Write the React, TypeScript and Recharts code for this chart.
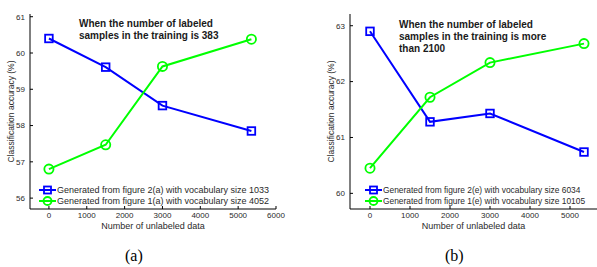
import React from "react";
import { CartesianGrid, Legend, Line, LineChart, XAxis, YAxis } from "recharts";

const unlabeled = [0, 1500, 3000, 5350];

const aFig2 = [60.4, 59.61, 58.55, 57.85];
const aFig1 = [56.8, 57.47, 59.63, 60.38];
const bFig2 = [62.9, 61.28, 61.43, 60.74];
const bFig1 = [60.45, 61.72, 62.34, 62.68];

const aXTicks = [0, 1000, 2000, 3000, 4000, 5000, 6000];
const aYTicks = [56, 57, 58, 59, 60, 61];
const bXTicks = [0, 1000, 2000, 3000, 4000, 5000];
const bYTicks = [60, 61, 62, 63];

const aNames = [
  "Generated from figure 2(a) with vocabulary size 1033",
  "Generated from figure 1(a) with vocabulary size 4052",
];
const bNames = [
  "Generated from figure 2(e) with vocabulary size 6034",
  "Generated from figure 1(e) with vocabulary size 10105",
];

const BLUE = "#0000ff";
const GREEN = "#00ff00";
const FONT = "'Liberation Sans', Arial, Helvetica, sans-serif";
const TXT = "#2a2a2a";

const toRows = (a: number[], b: number[]) =>
  unlabeled.map((x, i) => ({ x, s1: a[i], s2: b[i] }));

const SquareDot = (p: any) => {
  if (p.cx == null || p.cy == null) return null;
  return (
    <rect key={`sq-${p.index}`} x={p.cx - 3.8} y={p.cy - 3.8} width={7.6} height={7.6}
      fill="none" stroke={BLUE} strokeWidth={1.8} />
  );
};

const CircleDot = (p: any) => {
  if (p.cx == null || p.cy == null) return null;
  return <circle key={`ci-${p.index}`} cx={p.cx} cy={p.cy} r={4.6} fill="none" stroke={GREEN} strokeWidth={1.8} />;
};

function LegendBox({ names, size }: { names: string[]; size: number }) {
  const items = [
    { color: BLUE, shape: "square" },
    { color: GREEN, shape: "circle" },
  ];
  return (
    <div style={{ fontFamily: FONT, fontSize: size, color: TXT }}>
      {items.map((it, i) => (
        <div key={i} style={{ display: "flex", alignItems: "center", height: 10.4 }}>
          <svg width={18} height={10}>
            <line x1={0} y1={5} x2={17} y2={5} stroke={it.color} strokeWidth={2} />
            {it.shape === "square" ? (
              <rect x={5} y={1.5} width={7} height={7} fill="none" stroke={it.color} strokeWidth={1.8} />
            ) : (
              <circle cx={8.5} cy={5} r={4} fill="none" stroke={it.color} strokeWidth={1.8} />
            )}
          </svg>
          <span style={{ whiteSpace: "nowrap" }}>{names[i]}</span>
        </div>
      ))}
    </div>
  );
}

const yLabel = (props: any) => {
  const vb = props.viewBox;
  const cx = vb.x + 11;
  const cy = vb.y + vb.height / 2;
  return (
    <text x={cx} y={cy} transform={`rotate(-90, ${cx}, ${cy})`} textAnchor="middle"
      dominantBaseline="central" fontSize={8.5} fill={TXT} fontFamily={FONT}>
      Classification accuracy (%)
    </text>
  );
};

function Panel(props: {
  width: number;
  rightMargin: number;
  xDomain: [number, number];
  yDomain: [number, number];
  xTicks: number[];
  yTicks: number[];
  s1: number[];
  s2: number[];
  names: string[];
  legendLeft: number;
  legendSize: number;
}) {
  const data = toRows(props.s1, props.s2);
  const tickStyle = { fontSize: 8, fill: TXT, fontFamily: FONT };
  return (
    <LineChart width={props.width} height={235} data={data}
      margin={{ top: 14, right: props.rightMargin, bottom: 0, left: 0 }}>
      <CartesianGrid stroke="none" />
      <XAxis type="number" dataKey="x" domain={props.xDomain} ticks={props.xTicks} allowDataOverflow
        height={26} stroke="#000" tickSize={-3} tickMargin={6} tick={tickStyle} interval={0}
        label={{ value: "Number of unlabeled data", position: "insideBottom", offset: 6, fontSize: 9, fill: TXT, fontFamily: FONT }} />
      <XAxis xAxisId="top" orientation="top" type="number" dataKey="x" domain={props.xDomain}
        ticks={props.xTicks} allowDataOverflow height={0} stroke="#000" tickSize={-3} tick={false} interval={0} />
      <YAxis type="number" domain={props.yDomain} ticks={props.yTicks} allowDataOverflow width={30}
        stroke="#000" tickSize={-3} tickMargin={8} tick={tickStyle} interval={0} label={yLabel} />
      <YAxis yAxisId="right" orientation="right" type="number" domain={props.yDomain} ticks={props.yTicks}
        allowDataOverflow width={0} stroke="#000" tickSize={-3} tick={false} interval={0} />
      <Legend layout="horizontal" verticalAlign="middle" align="center"
        wrapperStyle={{ left: props.legendLeft, top: 185, width: "auto" }}
        content={() => <LegendBox names={props.names} size={props.legendSize} />} />
      <Line dataKey="s1" stroke={BLUE} strokeWidth={2} dot={SquareDot} isAnimationActive={false} />
      <Line dataKey="s2" stroke={GREEN} strokeWidth={2} dot={CircleDot} isAnimationActive={false} />
    </LineChart>
  );
}

const noteStyle: React.CSSProperties = {
  position: "absolute",
  fontFamily: FONT,
  fontWeight: "bold",
  fontSize: 10,
  lineHeight: "12px",
  color: "#1a1a1a",
  whiteSpace: "nowrap",
};

const captionStyle: React.CSSProperties = {
  position: "absolute",
  top: 247,
  fontFamily: "'Liberation Serif', 'Times New Roman', serif",
  fontSize: 16,
  lineHeight: "18px",
  color: "#000",
};

export default function App() {
  return (
    <div style={{ position: "fixed", left: 0, top: 0, width: 597, height: 267, background: "#fff", overflow: "hidden" }}>
      <div style={{ position: "absolute", left: 0, top: 0 }}>
        <Panel width={292} rightMargin={16} xDomain={[-500, 6000]} yDomain={[55.7, 61.075]}
          xTicks={aXTicks} yTicks={aYTicks} s1={aFig2} s2={aFig1} names={aNames} legendLeft={39} legendSize={9} />
      </div>
      <div style={{ position: "absolute", left: 320, top: 0 }}>
        <Panel width={278} rightMargin={1} xDomain={[-500, 5675]} yDomain={[59.72, 63.21]}
          xTicks={bXTicks} yTicks={bYTicks} s1={bFig2} s2={bFig1} names={bNames} legendLeft={45} legendSize={8.4} />
      </div>
      <div style={{ ...noteStyle, left: 79, top: 18 }}>
        When the number of labeled<br />samples in the training is 383
      </div>
      <div style={{ ...noteStyle, left: 399, top: 19 }}>
        When the number of labeled<br />samples in the training is more<br />than 2100
      </div>
      <div style={{ ...captionStyle, left: 125 }}>(a)</div>
      <div style={{ ...captionStyle, left: 445 }}>(b)</div>
    </div>
  );
}
